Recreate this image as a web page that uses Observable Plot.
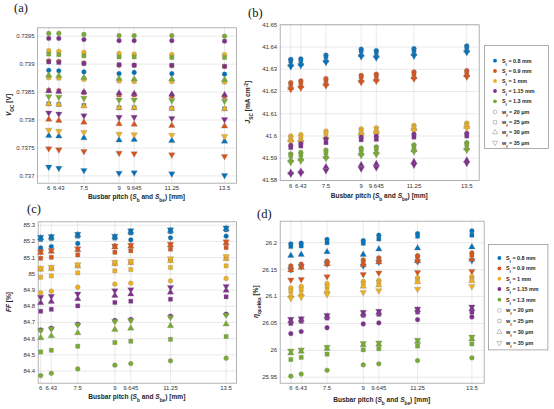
<!DOCTYPE html>
<html><head><meta charset="utf-8">
<script src="https://cdn.jsdelivr.net/npm/d3@7"></script>
<script src="https://cdn.jsdelivr.net/npm/@observablehq/plot@0.6"></script>
<style>
body{margin:0;background:#fff;}
#wrap{position:relative;width:554px;height:409px;overflow:hidden;background:#fff;}
.panel{position:absolute;}
.tag{position:absolute;font-family:"Liberation Serif","DejaVu Serif",serif;font-size:12.5px;color:#111;line-height:1;}
</style></head><body><div id="wrap"></div>
<script>
// ---------- shared categories ----------
const xPitch = [6, 6.43, 7.5, 9, 9.645, 11.25, 13.5];
const sfLabels = ["0.8", "0.9", "1", "1.15", "1.3"];
const wfLabels = ["20", "25", "30", "35"];
const sfColors = ["#0072BD", "#D95319", "#EDB120", "#7E2F8E", "#77AC30"];

// ---------- (a) Voc [V]; rows: wf = 20, 25, 30, 35 ----------
const voc_sf08 = [
  [0.73889, 0.73888, 0.73886, 0.73883, 0.73885, 0.73883, 0.73882],
  [0.73829, 0.73828, 0.73826, 0.73822, 0.73822, 0.73821, 0.73820],
  [0.73772, 0.73771, 0.73768, 0.73764, 0.73765, 0.73763, 0.73762],
  [0.73716, 0.73714, 0.73710, 0.73705, 0.73706, 0.73704, 0.73701]];
const voc_sf09 = [
  [0.73906, 0.73905, 0.73902, 0.73898, 0.73898, 0.73897, 0.73896],
  [0.73853, 0.73852, 0.73849, 0.73845, 0.73845, 0.73843, 0.73842],
  [0.73801, 0.73799, 0.73796, 0.73793, 0.73792, 0.73790, 0.73789],
  [0.73749, 0.73747, 0.73744, 0.73741, 0.73740, 0.73738, 0.73735]];
const voc_sf10 = [
  [0.73924, 0.73923, 0.73921, 0.73919, 0.73918, 0.73917, 0.73917],
  [0.73876, 0.73875, 0.73873, 0.73870, 0.73869, 0.73869, 0.73868],
  [0.73829, 0.73828, 0.73825, 0.73822, 0.73822, 0.73821, 0.73820],
  [0.73782, 0.73780, 0.73778, 0.73775, 0.73774, 0.73773, 0.73771]];
const voc_sf115 = [
  [0.73946, 0.73946, 0.73944, 0.73942, 0.73942, 0.73942, 0.73941],
  [0.73904, 0.73903, 0.73901, 0.73899, 0.73898, 0.73898, 0.73896],
  [0.73852, 0.73851, 0.73850, 0.73848, 0.73847, 0.73846, 0.73845],
  [0.73813, 0.73811, 0.73808, 0.73805, 0.73805, 0.73803, 0.73801]];
const voc_sf13 = [
  [0.73955, 0.73955, 0.73953, 0.73951, 0.73951, 0.73951, 0.73950],
  [0.73918, 0.73917, 0.73915, 0.73913, 0.73913, 0.73912, 0.73912],
  [0.73880, 0.73879, 0.73876, 0.73874, 0.73873, 0.73873, 0.73872],
  [0.73842, 0.73841, 0.73839, 0.73836, 0.73836, 0.73835, 0.73834]];
const vocTicks = [0.737, 0.7375, 0.738, 0.7385, 0.739, 0.7395];

// ---------- (b) Jsc [mA cm^-2] ----------
const jsc_sf08 = [
  [41.6345, 41.6347, 41.6364, 41.6390, 41.6384, 41.6393, 41.6405],
  [41.6338, 41.6340, 41.6357, 41.6383, 41.6377, 41.6385, 41.6398],
  [41.6322, 41.6325, 41.6340, 41.6366, 41.6361, 41.6370, 41.6385],
  [41.6312, 41.6318, 41.6332, 41.6357, 41.6352, 41.6360, 41.6376]];
const jsc_sf09 = [
  [41.6240, 41.6248, 41.6258, 41.6273, 41.6278, 41.6288, 41.6294],
  [41.6232, 41.6240, 41.6250, 41.6266, 41.6270, 41.6280, 41.6286],
  [41.6218, 41.6225, 41.6235, 41.6250, 41.6255, 41.6265, 41.6274],
  [41.6210, 41.6217, 41.6227, 41.6242, 41.6247, 41.6257, 41.6266]];
const jsc_sf10 = [
  [41.6000, 41.6006, 41.6022, 41.6032, 41.6037, 41.6048, 41.6058],
  [41.5992, 41.5996, 41.6012, 41.6025, 41.6030, 41.6040, 41.6050],
  [41.5982, 41.5982, 41.5995, 41.6012, 41.6018, 41.6032, 41.6042],
  [41.5974, 41.5973, 41.5985, 41.6005, 41.6012, 41.6025, 41.6036]];
const jsc_sf115 = [
  [41.5958, 41.5966, 41.5987, 41.5995, 41.5999, 41.6008, 41.6012],
  [41.5948, 41.5955, 41.5970, 41.5983, 41.5985, 41.5995, 41.6000],
  [41.5836, 41.5841, 41.5861, 41.5870, 41.5875, 41.5884, 41.5891],
  [41.5829, 41.5833, 41.5845, 41.5853, 41.5858, 41.5870, 41.5878]];
const jsc_sf13 = [
  [41.5920, 41.5926, 41.5937, 41.5945, 41.5951, 41.5960, 41.5970],
  [41.5912, 41.5915, 41.5925, 41.5937, 41.5943, 41.5952, 41.5962],
  [41.5892, 41.5897, 41.5908, 41.5922, 41.5927, 41.5937, 41.5945],
  [41.5882, 41.5889, 41.5900, 41.5914, 41.5918, 41.5930, 41.5937]];
const jscTicks = [41.58, 41.59, 41.6, 41.61, 41.62, 41.63, 41.64, 41.65];

// ---------- (c) FF [%] ----------
const ff_sf08 = [
  [85.160, 85.168, 85.187, 85.172, 85.209, 85.222, 85.232],
  [85.212, 85.218, 85.232, 85.220, 85.252, 85.260, 85.272],
  [85.220, 85.225, 85.239, 85.227, 85.259, 85.266, 85.278],
  [85.227, 85.231, 85.245, 85.233, 85.266, 85.272, 85.284]];
const ff_sf09 = [
  [85.030, 85.035, 85.050, 85.063, 85.070, 85.085, 85.098],
  [85.096, 85.102, 85.117, 85.133, 85.142, 85.152, 85.162],
  [85.130, 85.138, 85.148, 85.165, 85.170, 85.177, 85.190],
  [85.137, 85.145, 85.155, 85.172, 85.177, 85.184, 85.198]];
const ff_sf10 = [
  [84.882, 84.893, 84.917, 84.936, 84.942, 84.956, 84.971],
  [84.979, 84.987, 85.006, 85.018, 85.026, 85.039, 85.049],
  [85.027, 85.030, 85.047, 85.061, 85.067, 85.080, 85.092],
  [85.035, 85.041, 85.057, 85.072, 85.078, 85.094, 85.107]];
const ff_sf115 = [
  [84.654, 84.664, 84.689, 84.712, 84.718, 84.738, 84.751],
  [84.769, 84.781, 84.802, 84.823, 84.831, 84.843, 84.858],
  [84.821, 84.829, 84.845, 84.866, 84.874, 84.886, 84.897],
  [84.856, 84.862, 84.876, 84.897, 84.903, 84.917, 84.923]];
const ff_sf13 = [
  [84.372, 84.386, 84.413, 84.436, 84.446, 84.463, 84.479],
  [84.518, 84.528, 84.553, 84.576, 84.584, 84.596, 84.613],
  [84.605, 84.617, 84.635, 84.656, 84.664, 84.679, 84.689],
  [84.650, 84.660, 84.685, 84.706, 84.712, 84.732, 84.745]];
const ffTicks = [84.4, 84.5, 84.6, 84.7, 84.8, 84.9, 85, 85.1, 85.2, 85.3];

// ---------- (d) efficiency eta_quokka [%] ----------
const eta_sf08 = [
  [26.198, 26.199, 26.206, 26.204, 26.214, 26.217, 26.222],
  [26.193, 26.194, 26.200, 26.199, 26.207, 26.212, 26.214],
  [26.176, 26.178, 26.183, 26.178, 26.188, 26.190, 26.192],
  [26.150, 26.156, 26.161, 26.157, 26.164, 26.165, 26.167]];
const eta_sf09 = [
  [26.157, 26.160, 26.166, 26.168, 26.172, 26.176, 26.181],
  [26.153, 26.156, 26.163, 26.164, 26.169, 26.173, 26.177],
  [26.149, 26.154, 26.160, 26.159, 26.164, 26.166, 26.169],
  [26.131, 26.132, 26.137, 26.141, 26.144, 26.145, 26.147]];
const eta_sf10 = [
  [26.116, 26.119, 26.124, 26.128, 26.130, 26.135, 26.137],
  [26.110, 26.113, 26.118, 26.124, 26.126, 26.131, 26.133],
  [26.102, 26.105, 26.111, 26.119, 26.121, 26.127, 26.129],
  [26.097, 26.099, 26.104, 26.108, 26.111, 26.114, 26.119]];
const eta_sf115 = [
  [26.031, 26.035, 26.042, 26.049, 26.051, 26.057, 26.062],
  [26.050, 26.054, 26.060, 26.065, 26.067, 26.071, 26.071],
  [26.055, 26.057, 26.063, 26.068, 26.070, 26.075, 26.077],
  [26.058, 26.059, 26.065, 26.071, 26.073, 26.077, 26.081]];
const eta_sf13 = [
  [25.952, 25.956, 25.963, 25.973, 25.975, 25.981, 25.986],
  [25.983, 25.987, 25.993, 26.001, 26.003, 26.008, 26.012],
  [25.995, 25.998, 26.003, 26.010, 26.011, 26.016, 26.021],
  [25.999, 26.001, 26.006, 26.013, 26.014, 26.019, 26.025]];
const etaTicks = [25.95, 26, 26.05, 26.1, 26.15, 26.2];

// ---------- helpers ----------
const triangleDown = {
  draw(context, size) {
    const s3 = Math.sqrt(3);
    const y = -Math.sqrt(size / (s3 * 3));
    context.moveTo(0, -y * 2);
    context.lineTo(-s3 * y, y);
    context.lineTo(s3 * y, y);
    context.closePath();
  }
};
const symbolRange = ["circle", "square", "triangle", triangleDown];
const wrap = document.getElementById("wrap");
const FONT = "'Liberation Sans', Arial, sans-serif";

function toRows(sets) {
  const rows = [];
  sets.forEach((series, si) => series.forEach((vals, wi) => vals.forEach((v, xi) =>
    rows.push({x: xPitch[xi], y: v, sf: sfLabels[si], wf: wfLabels[wi]}))));
  return rows;
}

function addRich(g, parts, attrs) {
  const t = g.append("text").attr("font-family", FONT).attr("font-weight", "bold").attr("fill", "#262626");
  for (const [k, v] of Object.entries(attrs)) t.attr(k, v);
  for (const p of parts) {
    const ts = t.append("tspan").text(p.t);
    if (p.i) ts.attr("font-style", "italic");
    if (p.sub) ts.attr("baseline-shift", "sub").attr("font-size", "0.72em");
    if (p.sup) ts.attr("baseline-shift", "super").attr("font-size", "0.72em");
  }
  return t;
}

const xTitle = [{t: "Busbar pitch ("}, {t: "S", i: true}, {t: "b", sub: true}, {t: " and "}, {t: "S", i: true}, {t: "be", sub: true}, {t: ") [mm]"}];

function panel(o) {
  const rows = toRows(o.sets);
  const svg = Plot.plot({
    width: o.w, height: o.h,
    marginLeft: o.ml, marginRight: o.mr, marginTop: o.mt, marginBottom: o.mb,
    style: {fontFamily: FONT, fontSize: "6px", color: "#333", background: "transparent", overflow: "visible"},
    x: {domain: o.xd, ticks: xPitch, tickFormat: d => String(d), tickSize: 0, tickPadding: 3, label: null, grid: true},
    y: {domain: o.yd, ticks: o.yt, tickFormat: d => String(d), tickSize: 0, tickPadding: 3, label: null, grid: true},
    color: {domain: sfLabels, range: sfColors},
    symbol: {domain: wfLabels, range: symbolRange},
    marks: [
      Plot.frame({stroke: "#a0a0a0", strokeWidth: 0.8}),
      Plot.dot(rows, {x: "x", y: "y", fill: "sf", symbol: "wf", r: 2.4, stroke: "#808080", strokeWidth: 0.3})
    ]
  });
  const g = d3.select(svg);
  const fx = (o.ml + o.w - o.mr) / 2, fy = (o.mt + o.h - o.mb) / 2;
  addRich(g, xTitle, {x: fx, y: o.xty, "text-anchor": "middle", "font-size": "6.6px"});
  addRich(g, o.ylab, {transform: `translate(${o.ylx},${fy}) rotate(-90)`, "text-anchor": "middle", "font-size": "6.6px"});
  const div = document.createElement("div");
  div.className = "panel";
  div.style.left = o.left + "px"; div.style.top = o.top + "px";
  div.appendChild(svg);
  wrap.appendChild(div);
}

function tag(txt, left, top) {
  const d = document.createElement("div");
  d.className = "tag"; d.textContent = txt;
  d.style.left = left + "px"; d.style.top = top + "px";
  wrap.appendChild(d);
}

function legend(left, top, w, h, rowsY, symX, txtX) {
  const svg = d3.create("svg").attr("width", w).attr("height", h)
    .style("position", "absolute").style("left", left + "px").style("top", top + "px");
  svg.append("rect").attr("x", 0.5).attr("y", 0.5).attr("width", w - 1).attr("height", h - 1)
    .attr("fill", "#fff").attr("stroke", "#9a9a9a").attr("stroke-width", 0.8);
  const items = [];
  sfLabels.forEach((s, i) => items.push({kind: "sf", i, parts: [{t: "S"}, {t: "f", sub: true}, {t: " = " + s + " mm"}]}));
  wfLabels.forEach((wv, i) => items.push({kind: "wf", i, parts: [{t: "w"}, {t: "f", sub: true}, {t: " = " + wv + " \u03bcm"}]}));
  items.forEach((it, k) => {
    const y = rowsY[k];
    if (it.kind === "sf") {
      svg.append("path").attr("d", d3.symbol(d3.symbolCircle, Math.PI * 1.9 * 1.9)())
        .attr("transform", `translate(${symX},${y})`).attr("fill", sfColors[it.i]);
    } else {
      const st = [d3.symbolCircle, d3.symbolSquare, d3.symbolTriangle, triangleDown][it.i];
      svg.append("path").attr("d", d3.symbol(st, Math.PI * 1.9 * 1.9)())
        .attr("transform", `translate(${symX},${y})`).attr("fill", "none").attr("stroke", "#888").attr("stroke-width", 0.5);
    }
    addRich(svg, it.parts, {x: txtX, y: y + 1.9, "font-size": "5.4px"});
  });
  wrap.appendChild(svg.node());
}

// ---------- panels ----------
panel({left: 0, top: 0, w: 250, h: 205, ml: 37, mr: 14, mt: 27.3, mb: 22.3,
  xd: [5.52, 14.01], yd: [0.73687, 0.73965], yt: vocTicks,
  sets: [voc_sf08, voc_sf09, voc_sf10, voc_sf115, voc_sf13],
  xty: 199, ylx: 11, ylab: [{t: "V", i: true}, {t: "OC", sub: true}, {t: " [V]"}]});

panel({left: 240, top: 0, w: 245, h: 205, ml: 39.7, mr: 6.3, mt: 24.3, mb: 25,
  xd: [5.55, 14.03], yd: [41.58, 41.65], yt: jscTicks,
  sets: [jsc_sf08, jsc_sf09, jsc_sf10, jsc_sf115, jsc_sf13],
  xty: 197.5, ylx: 10, ylab: [{t: "J", i: true}, {t: "SC", sub: true}, {t: " [mA cm"}, {t: "-2", sup: true}, {t: "]"}]});

panel({left: 0, top: 200, w: 250, h: 209, ml: 37.7, mr: 14, mt: 21.3, mb: 26.3,
  xd: [5.9, 13.92], yd: [84.325, 85.321], yt: ffTicks,
  sets: [ff_sf08, ff_sf09, ff_sf10, ff_sf115, ff_sf13],
  xty: 199, ylx: 11, ylab: [{t: "FF", i: true}, {t: " [%]"}]});

panel({left: 240, top: 200, w: 250, h: 209, ml: 39.7, mr: 6.3, mt: 20.7, mb: 26.3,
  xd: [5.56, 14.01], yd: [25.939, 26.24], yt: etaTicks,
  sets: [eta_sf08, eta_sf09, eta_sf10, eta_sf115, eta_sf13],
  xty: 201.5, ylx: 18, ylab: [{t: "\u03b7", i: true}, {t: "quokka", sub: true}, {t: " [%]"}]});

legend(483.7, 45, 65, 104, [15.7, 26, 36, 46, 56.3, 67, 77.3, 87.3, 97.7], 11, 18);
legend(488.3, 244.3, 60.4, 106.4, [14, 24.4, 34.7, 45, 55.7, 66.4, 77, 88, 99], 11.4, 18);

tag("(a)", 14, 2);
tag("(b)", 248, 7);
tag("(c)", 27, 203);
tag("(d)", 257, 208);
</script></body></html>
